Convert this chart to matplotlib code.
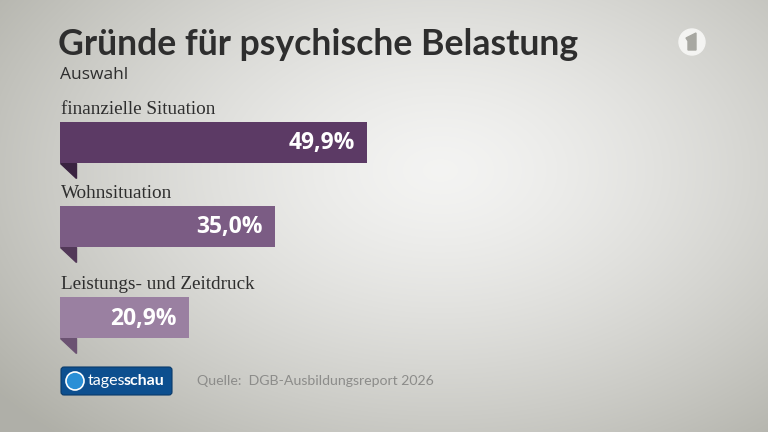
import numpy as np
import matplotlib.pyplot as plt
from matplotlib.patches import Polygon, FancyBboxPatch, Circle

# data
categories = ['finanzielle Situation', 'Wohnsituation', 'Leistungs- und Zeitdruck']
values = [49.9, 35.0, 20.9]
value_labels = ['49,9%', '35,0%', '20,9%']
bar_colors = ['#5c3a65', '#7b5c84', '#9a80a1']
fold_colors = ['#3a2341', '#523858', '#6b5272']

title = 'Gründe für psychische Belastung'
subtitle = 'Auswahl'
source = 'Quelle:  DGB-Ausbildungsreport 2026'

W, H = 768, 432
fig = plt.figure(figsize=(W / 100, H / 100), dpi=100)

# background gradient
bg = fig.add_axes([0, 0, 1, 1])
yy, xx = np.mgrid[0:H, 0:W]
d = np.sqrt(((xx - 440) / 560.0) ** 2 + ((yy - 170) / 360.0) ** 2)
d = np.clip(d, 0, 1)
light = np.array([0.955, 0.955, 0.95])
dark = np.array([0.69, 0.69, 0.66])
t = d[..., None] ** 1.4
img = light[None, None, :] * (1 - t) + dark[None, None, :] * t
bg.imshow(img, extent=[0, W, H, 0], aspect='auto')
bg.set_xlim(0, W)
bg.set_ylim(H, 0)
bg.axis('off')

# title and subtitle
bg.text(58, 55, title, fontsize=25.7, fontweight='bold', family='Lato',
        color='#2e2e2e', ha='left', va='baseline')
bg.text(60, 79, subtitle, fontsize=12.5, family='Open Sans', color='#2e2e2e',
        ha='left', va='baseline')

# ARD logo
bg.add_patch(Circle((692, 42), 13, color='#f4f4f2', zorder=3))
bg.add_patch(Polygon([[686, 38], [696, 33], [696, 50], [688, 50], [688, 41]],
                     closed=True, color='#a8a8a2', zorder=4))

# tagesschau logo
bg.add_patch(FancyBboxPatch((61, 367), 111, 28, boxstyle='round,pad=0,rounding_size=3',
                            facecolor='#0d4f8f', edgecolor='#0a3a6a', lw=0.8, zorder=3))
bg.add_patch(Circle((75, 381), 9, facecolor='#2a8fd6', edgecolor='white', lw=1.2, zorder=4))
bg.text(88, 381, 'tages', fontsize=11.5, family='Lato', color='white',
        ha='left', va='center', zorder=5)
bg.text(124, 381, 'schau', fontsize=11.5, family='Lato', fontweight='bold',
        color='white', ha='left', va='center', zorder=5)

bg.text(197, 381, source, fontsize=10.2, family='Lato', color='#8c8c8a',
        ha='left', va='center')

# bars
ax = fig.add_axes([60 / W, 0, 615 / W, 1])
ax.set_xlim(0, 100)
ax.set_ylim(H, 0)
ax.axis('off')

centers = [142.5, 226.5, 317.5]
bar_h = 41
ax.barh(centers, values, height=bar_h, color=bar_colors, zorder=2)

fold_w = 16 * 100 / 615
for c, v, lab, name, fc in zip(centers, values, value_labels, categories, fold_colors):
    bottom = c + bar_h / 2
    ax.add_patch(Polygon([[0, bottom], [fold_w, bottom], [fold_w, bottom + 15]],
                         closed=True, color=fc, zorder=1))
    ax.text(v - 2.0, c + 1, lab, fontsize=16.5, fontweight='bold', family='Open Sans',
            color='white', ha='right', va='center', zorder=3)
    ax.text(0.1, c - bar_h / 2 - 8, name, fontsize=13.8, family='Liberation Serif',
            color='#2e2e2e', ha='left', va='baseline')

fig.savefig('out.png', dpi=100)
